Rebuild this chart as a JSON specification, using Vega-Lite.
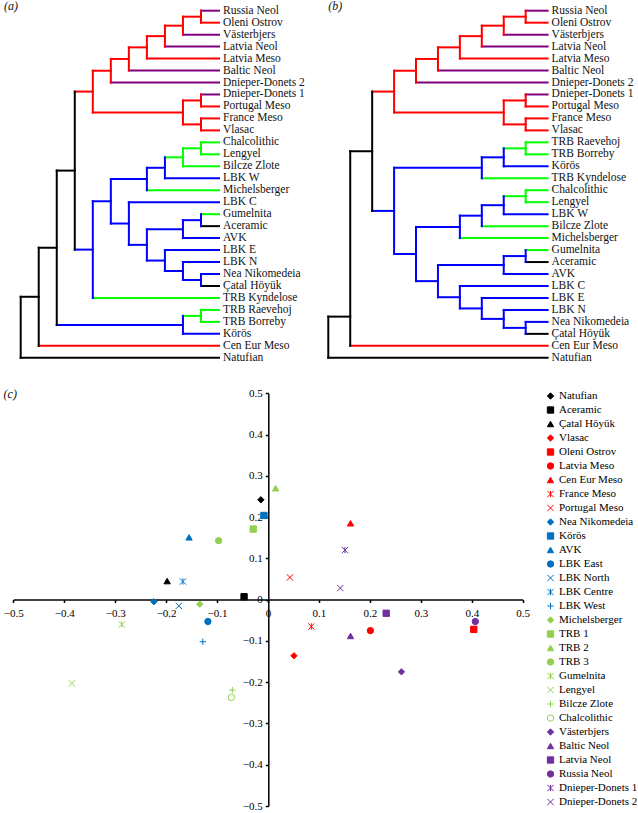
{
"$schema": "https://vega.github.io/schema/vega-lite/v6.json",
"width": 638, "height": 813,
"autosize": {"type": "none"},
"padding": 0,
"background": "white",
"config": {"view": {"stroke": null}, "font": "Liberation Serif"},
"datasets": {
"redClade": [
{"h":0,"h2":1,"i":0,"i2":0,"g":"neoN"},
{"h":0,"h2":1,"i":1,"i2":1,"g":"meso"},
{"h":1,"h2":2,"i":0.5,"i2":0.5,"g":"meso"},
{"h":0,"h2":2,"i":2,"i2":2,"g":"neoN"},
{"h":2,"h2":3,"i":1.25,"i2":1.25,"g":"meso"},
{"h":0,"h2":3,"i":3,"i2":3,"g":"neoN"},
{"h":3,"h2":4,"i":2.125,"i2":2.125,"g":"meso"},
{"h":0,"h2":4,"i":4,"i2":4,"g":"meso"},
{"h":4,"h2":5,"i":3.063,"i2":3.063,"g":"meso"},
{"h":0,"h2":5,"i":5,"i2":5,"g":"neoN"},
{"h":5,"h2":6,"i":4.031,"i2":4.031,"g":"meso"},
{"h":0,"h2":6,"i":6,"i2":6,"g":"neoN"},
{"h":6,"h2":7,"i":5.016,"i2":5.016,"g":"meso"},
{"h":0,"h2":1,"i":7,"i2":7,"g":"neoN"},
{"h":0,"h2":1,"i":8,"i2":8,"g":"meso"},
{"h":0,"h2":1,"i":9,"i2":9,"g":"meso"},
{"h":0,"h2":1,"i":10,"i2":10,"g":"meso"},
{"h":1,"h2":2,"i":7.5,"i2":7.5,"g":"meso"},
{"h":1,"h2":2,"i":9.5,"i2":9.5,"g":"meso"},
{"h":2,"h2":7,"i":8.5,"i2":8.5,"g":"meso"},
{"h":7,"h2":8,"i":6.758,"i2":6.758,"g":"meso"},
{"h":1,"h2":1,"i":0,"i2":1,"g":"meso"},
{"h":2,"h2":2,"i":0.5,"i2":2,"g":"meso"},
{"h":3,"h2":3,"i":1.25,"i2":3,"g":"meso"},
{"h":4,"h2":4,"i":2.125,"i2":4,"g":"meso"},
{"h":5,"h2":5,"i":3.063,"i2":5,"g":"meso"},
{"h":6,"h2":6,"i":4.031,"i2":6,"g":"meso"},
{"h":1,"h2":1,"i":7,"i2":8,"g":"meso"},
{"h":1,"h2":1,"i":9,"i2":10,"g":"meso"},
{"h":2,"h2":2,"i":7.5,"i2":9.5,"g":"meso"},
{"h":7,"h2":7,"i":5.016,"i2":8.5,"g":"meso"}
],
"restA": [
{"h":0,"h2":1,"i":11,"i2":11,"g":"trb"},
{"h":0,"h2":1,"i":12,"i2":12,"g":"trb"},
{"h":1,"h2":2,"i":11.5,"i2":11.5,"g":"trb"},
{"h":0,"h2":2,"i":13,"i2":13,"g":"trb"},
{"h":2,"h2":3,"i":12.25,"i2":12.25,"g":"trb"},
{"h":0,"h2":3,"i":14,"i2":14,"g":"lbk"},
{"h":3,"h2":4,"i":13.125,"i2":13.125,"g":"lbk"},
{"h":0,"h2":4,"i":15,"i2":15,"g":"trb"},
{"h":4,"h2":6,"i":14.063,"i2":14.063,"g":"lbk"},
{"h":0,"h2":5,"i":16,"i2":16,"g":"lbk"},
{"h":0,"h2":1,"i":17,"i2":17,"g":"trb"},
{"h":0,"h2":1,"i":18,"i2":18,"g":"base"},
{"h":1,"h2":2,"i":17.5,"i2":17.5,"g":"lbk"},
{"h":0,"h2":2,"i":19,"i2":19,"g":"lbk"},
{"h":2,"h2":4,"i":18.25,"i2":18.25,"g":"lbk"},
{"h":0,"h2":3,"i":20,"i2":20,"g":"lbk"},
{"h":0,"h2":2,"i":21,"i2":21,"g":"lbk"},
{"h":0,"h2":1,"i":22,"i2":22,"g":"lbk"},
{"h":0,"h2":1,"i":23,"i2":23,"g":"base"},
{"h":1,"h2":2,"i":22.5,"i2":22.5,"g":"lbk"},
{"h":2,"h2":3,"i":21.75,"i2":21.75,"g":"lbk"},
{"h":3,"h2":4,"i":20.875,"i2":20.875,"g":"lbk"},
{"h":4,"h2":5,"i":19.563,"i2":19.563,"g":"lbk"},
{"h":5,"h2":6,"i":17.781,"i2":17.781,"g":"lbk"},
{"h":6,"h2":7,"i":15.922,"i2":15.922,"g":"lbk"},
{"h":0,"h2":7,"i":24,"i2":24,"g":"trb"},
{"h":7,"h2":8,"i":19.961,"i2":19.961,"g":"lbk"},
{"h":8,"h2":9,"i":13.359,"i2":13.359,"g":"base"},
{"h":0,"h2":1,"i":25,"i2":25,"g":"trb"},
{"h":0,"h2":1,"i":26,"i2":26,"g":"trb"},
{"h":1,"h2":2,"i":25.5,"i2":25.5,"g":"trb"},
{"h":0,"h2":2,"i":27,"i2":27,"g":"lbk"},
{"h":2,"h2":9,"i":26.25,"i2":26.25,"g":"lbk"},
{"h":9,"h2":10,"i":19.805,"i2":19.805,"g":"base"},
{"h":0,"h2":10,"i":28,"i2":28,"g":"meso"},
{"h":10,"h2":11,"i":23.902,"i2":23.902,"g":"base"},
{"h":0,"h2":11,"i":29,"i2":29,"g":"base"},
{"h":1,"h2":1,"i":11,"i2":12,"g":"trb"},
{"h":2,"h2":2,"i":11.5,"i2":13,"g":"trb"},
{"h":3,"h2":3,"i":12.25,"i2":14,"g":"lbk"},
{"h":4,"h2":4,"i":13.125,"i2":15,"g":"lbk"},
{"h":1,"h2":1,"i":17,"i2":18,"g":"lbk"},
{"h":2,"h2":2,"i":17.5,"i2":19,"g":"lbk"},
{"h":1,"h2":1,"i":22,"i2":23,"g":"lbk"},
{"h":2,"h2":2,"i":21,"i2":22.5,"g":"lbk"},
{"h":3,"h2":3,"i":20,"i2":21.75,"g":"lbk"},
{"h":4,"h2":4,"i":18.25,"i2":20.875,"g":"lbk"},
{"h":5,"h2":5,"i":16,"i2":19.563,"g":"lbk"},
{"h":6,"h2":6,"i":14.063,"i2":17.781,"g":"lbk"},
{"h":7,"h2":7,"i":15.922,"i2":24,"g":"lbk"},
{"h":8,"h2":8,"i":6.758,"i2":19.961,"g":"base"},
{"h":1,"h2":1,"i":25,"i2":26,"g":"trb"},
{"h":2,"h2":2,"i":25.5,"i2":27,"g":"lbk"},
{"h":9,"h2":9,"i":13.359,"i2":26.25,"g":"base"},
{"h":10,"h2":10,"i":19.805,"i2":28,"g":"base"},
{"h":11,"h2":11,"i":23.902,"i2":29,"g":"base"}
],
"restB": [
{"h":0,"h2":1,"i":11,"i2":11,"g":"trb"},
{"h":0,"h2":1,"i":12,"i2":12,"g":"trb"},
{"h":1,"h2":2,"i":11.5,"i2":11.5,"g":"trb"},
{"h":0,"h2":2,"i":13,"i2":13,"g":"lbk"},
{"h":2,"h2":3,"i":12.25,"i2":12.25,"g":"lbk"},
{"h":0,"h2":3,"i":14,"i2":14,"g":"trb"},
{"h":3,"h2":7,"i":13.125,"i2":13.125,"g":"lbk"},
{"h":0,"h2":1,"i":15,"i2":15,"g":"trb"},
{"h":0,"h2":1,"i":16,"i2":16,"g":"trb"},
{"h":1,"h2":2,"i":15.5,"i2":15.5,"g":"trb"},
{"h":0,"h2":2,"i":17,"i2":17,"g":"lbk"},
{"h":2,"h2":3,"i":16.25,"i2":16.25,"g":"lbk"},
{"h":0,"h2":3,"i":18,"i2":18,"g":"trb"},
{"h":3,"h2":4,"i":17.125,"i2":17.125,"g":"lbk"},
{"h":0,"h2":4,"i":19,"i2":19,"g":"trb"},
{"h":4,"h2":6,"i":18.063,"i2":18.063,"g":"lbk"},
{"h":0,"h2":1,"i":20,"i2":20,"g":"trb"},
{"h":0,"h2":1,"i":21,"i2":21,"g":"base"},
{"h":1,"h2":2,"i":20.5,"i2":20.5,"g":"lbk"},
{"h":0,"h2":2,"i":22,"i2":22,"g":"lbk"},
{"h":2,"h2":5,"i":21.25,"i2":21.25,"g":"lbk"},
{"h":0,"h2":4,"i":23,"i2":23,"g":"lbk"},
{"h":0,"h2":3,"i":24,"i2":24,"g":"lbk"},
{"h":0,"h2":2,"i":25,"i2":25,"g":"lbk"},
{"h":0,"h2":1,"i":26,"i2":26,"g":"lbk"},
{"h":0,"h2":1,"i":27,"i2":27,"g":"base"},
{"h":1,"h2":2,"i":26.5,"i2":26.5,"g":"lbk"},
{"h":2,"h2":3,"i":25.75,"i2":25.75,"g":"lbk"},
{"h":3,"h2":4,"i":24.875,"i2":24.875,"g":"lbk"},
{"h":4,"h2":5,"i":23.938,"i2":23.938,"g":"lbk"},
{"h":5,"h2":6,"i":22.594,"i2":22.594,"g":"lbk"},
{"h":6,"h2":7,"i":20.328,"i2":20.328,"g":"lbk"},
{"h":7,"h2":8,"i":16.727,"i2":16.727,"g":"lbk"},
{"h":8,"h2":9,"i":11.742,"i2":11.742,"g":"base"},
{"h":0,"h2":9,"i":28,"i2":28,"g":"meso"},
{"h":9,"h2":10,"i":25.56,"i2":25.56,"g":"base"},
{"h":0,"h2":10,"i":29,"i2":29,"g":"base"},
{"h":1,"h2":1,"i":11,"i2":12,"g":"trb"},
{"h":2,"h2":2,"i":11.5,"i2":13,"g":"lbk"},
{"h":3,"h2":3,"i":12.25,"i2":14,"g":"lbk"},
{"h":1,"h2":1,"i":15,"i2":16,"g":"trb"},
{"h":2,"h2":2,"i":15.5,"i2":17,"g":"lbk"},
{"h":3,"h2":3,"i":16.25,"i2":18,"g":"lbk"},
{"h":4,"h2":4,"i":17.125,"i2":19,"g":"lbk"},
{"h":1,"h2":1,"i":20,"i2":21,"g":"lbk"},
{"h":2,"h2":2,"i":20.5,"i2":22,"g":"lbk"},
{"h":1,"h2":1,"i":26,"i2":27,"g":"lbk"},
{"h":2,"h2":2,"i":25,"i2":26.5,"g":"lbk"},
{"h":3,"h2":3,"i":24,"i2":25.75,"g":"lbk"},
{"h":4,"h2":4,"i":23,"i2":24.875,"g":"lbk"},
{"h":5,"h2":5,"i":21.25,"i2":23.938,"g":"lbk"},
{"h":6,"h2":6,"i":18.063,"i2":22.594,"g":"lbk"},
{"h":7,"h2":7,"i":13.125,"i2":20.328,"g":"lbk"},
{"h":8,"h2":8,"i":6.758,"i2":16.727,"g":"base"},
{"h":9,"h2":9,"i":11.742,"i2":28,"g":"base"},
{"h":10,"h2":10,"i":25.56,"i2":29,"g":"base"}
],
"leavesA": [
{"name":"Russia Neol","i":0},{"name":"Oleni Ostrov","i":1},{"name":"Västerbjers","i":2},{"name":"Latvia Neol","i":3},{"name":"Latvia Meso","i":4},{"name":"Baltic Neol","i":5},{"name":"Dnieper-Donets 2","i":6},{"name":"Dnieper-Donets 1","i":7},{"name":"Portugal Meso","i":8},{"name":"France Meso","i":9},{"name":"Vlasac","i":10},{"name":"Chalcolithic","i":11},{"name":"Lengyel","i":12},{"name":"Bilcze Zlote","i":13},{"name":"LBK W","i":14},{"name":"Michelsberger","i":15},{"name":"LBK C","i":16},{"name":"Gumelnita","i":17},{"name":"Aceramic","i":18},{"name":"AVK","i":19},{"name":"LBK E","i":20},{"name":"LBK N","i":21},{"name":"Nea Nikomedeia","i":22},{"name":"Çatal Höyük","i":23},{"name":"TRB Kyndelose","i":24},{"name":"TRB Raevehoj","i":25},{"name":"TRB Borreby","i":26},{"name":"Körös","i":27},{"name":"Cen Eur Meso","i":28},{"name":"Natufian","i":29}
],
"leavesB": [
{"name":"Russia Neol","i":0},{"name":"Oleni Ostrov","i":1},{"name":"Västerbjers","i":2},{"name":"Latvia Neol","i":3},{"name":"Latvia Meso","i":4},{"name":"Baltic Neol","i":5},{"name":"Dnieper-Donets 2","i":6},{"name":"Dnieper-Donets 1","i":7},{"name":"Portugal Meso","i":8},{"name":"France Meso","i":9},{"name":"Vlasac","i":10},{"name":"TRB Raevehoj","i":11},{"name":"TRB Borreby","i":12},{"name":"Körös","i":13},{"name":"TRB Kyndelose","i":14},{"name":"Chalcolithic","i":15},{"name":"Lengyel","i":16},{"name":"LBK W","i":17},{"name":"Bilcze Zlote","i":18},{"name":"Michelsberger","i":19},{"name":"Gumelnita","i":20},{"name":"Aceramic","i":21},{"name":"AVK","i":22},{"name":"LBK C","i":23},{"name":"LBK E","i":24},{"name":"LBK N","i":25},{"name":"Nea Nikomedeia","i":26},{"name":"Çatal Höyük","i":27},{"name":"Cen Eur Meso","i":28},{"name":"Natufian","i":29}
],
"pca": [
{"name":"Natufian","x":-0.014,"y":0.242},
{"name":"Aceramic","x":-0.047,"y":0.007},
{"name":"Çatal Höyük","x":-0.198,"y":0.045},
{"name":"Vlasac","x":0.051,"y":-0.136},
{"name":"Oleni Ostrov","x":0.404,"y":-0.072},
{"name":"Latvia Meso","x":0.201,"y":-0.075},
{"name":"Cen Eur Meso","x":0.162,"y":0.185},
{"name":"France Meso","x":0.085,"y":-0.065},
{"name":"Portugal Meso","x":0.043,"y":0.054},
{"name":"Nea Nikomedeia","x":-0.224,"y":-0.005},
{"name":"Körös","x":-0.008,"y":0.204},
{"name":"AVK","x":-0.155,"y":0.151},
{"name":"LBK East","x":-0.118,"y":-0.053},
{"name":"LBK North","x":-0.175,"y":-0.015},
{"name":"LBK Centre","x":-0.167,"y":0.044},
{"name":"LBK West","x":-0.128,"y":-0.102},
{"name":"Michelsberger","x":-0.134,"y":-0.011},
{"name":"TRB 1","x":-0.029,"y":0.171},
{"name":"TRB 2","x":0.015,"y":0.27},
{"name":"TRB 3","x":-0.097,"y":0.143},
{"name":"Gumelnita","x":-0.287,"y":-0.06},
{"name":"Lengyel","x":-0.385,"y":-0.203},
{"name":"Bilcze Zlote","x":-0.07,"y":-0.219},
{"name":"Chalcolithic","x":-0.072,"y":-0.237},
{"name":"Västerbjers","x":0.262,"y":-0.175},
{"name":"Baltic Neol","x":0.162,"y":-0.088},
{"name":"Latvia Neol","x":0.232,"y":-0.033},
{"name":"Russia Neol","x":0.407,"y":-0.053},
{"name":"Dnieper-Donets 1","x":0.151,"y":0.12},
{"name":"Dnieper-Donets 2","x":0.142,"y":0.028}
]
},
"layer": [
{
"layer": [
{"data": {"name": "redClade"}, "mark": {"type": "rule", "strokeWidth": 2, "strokeCap": "square"},
 "encoding": {
  "x": {"field": "h", "type": "quantitative", "scale": {"domain": [0, 11], "range": [219, 20.7], "nice": false, "zero": false}, "axis": null},
  "x2": {"field": "h2"},
  "y": {"field": "i", "type": "quantitative", "scale": {"domain": [0, 29], "range": [10.7, 357.8], "nice": false, "zero": false}, "axis": null},
  "y2": {"field": "i2"},
  "color": {"field": "g", "type": "nominal", "scale": {"domain": ["meso","neoN","lbk","trb","base"], "range": ["#ff0000","#800080","#0000ff","#00ff00","#000000"]}, "legend": null}}},
{"data": {"name": "restA"}, "mark": {"type": "rule", "strokeWidth": 2, "strokeCap": "square"},
 "encoding": {
  "x": {"field": "h", "type": "quantitative"},
  "x2": {"field": "h2"},
  "y": {"field": "i", "type": "quantitative"},
  "y2": {"field": "i2"},
  "color": {"field": "g", "type": "nominal", "legend": null}}},
{"data": {"name": "leavesA"}, "mark": {"type": "text", "align": "left", "baseline": "middle", "dx": 4, "fontSize": 11.5, "font": "Liberation Serif", "color": "#111111"},
 "encoding": {"x": {"datum": 0, "type": "quantitative"}, "y": {"field": "i", "type": "quantitative"}, "text": {"field": "name"}}},
{"data": {"values": [{"t": "(a)", "h": 11.92, "i": -0.39}]}, "mark": {"type": "text", "align": "left", "baseline": "middle", "fontSize": 12, "fontStyle": "italic", "font": "Liberation Serif", "color": "#111111"},
 "encoding": {"x": {"field": "h", "type": "quantitative"}, "y": {"field": "i", "type": "quantitative"}, "text": {"field": "t"}}}
]
},
{
"layer": [
{"data": {"name": "redClade"}, "mark": {"type": "rule", "strokeWidth": 2, "strokeCap": "square"},
 "encoding": {
  "x": {"field": "h", "type": "quantitative", "scale": {"domain": [0, 10], "range": [547.6, 328.3], "nice": false, "zero": false}, "axis": null},
  "x2": {"field": "h2"},
  "y": {"field": "i", "type": "quantitative", "scale": {"domain": [0, 29], "range": [10.7, 357.8], "nice": false, "zero": false}, "axis": null},
  "y2": {"field": "i2"},
  "color": {"field": "g", "type": "nominal", "scale": {"domain": ["meso","neoN","lbk","trb","base"], "range": ["#ff0000","#800080","#0000ff","#00ff00","#000000"]}, "legend": null}}},
{"data": {"name": "restB"}, "mark": {"type": "rule", "strokeWidth": 2, "strokeCap": "square"},
 "encoding": {
  "x": {"field": "h", "type": "quantitative"},
  "x2": {"field": "h2"},
  "y": {"field": "i", "type": "quantitative"},
  "y2": {"field": "i2"},
  "color": {"field": "g", "type": "nominal", "legend": null}}},
{"data": {"name": "leavesB"}, "mark": {"type": "text", "align": "left", "baseline": "middle", "dx": 4, "fontSize": 11.5, "font": "Liberation Serif", "color": "#111111"},
 "encoding": {"x": {"datum": 0, "type": "quantitative"}, "y": {"field": "i", "type": "quantitative"}, "text": {"field": "name"}}},
{"data": {"values": [{"t": "(b)", "h": 10.0, "i": -0.39}]}, "mark": {"type": "text", "align": "left", "baseline": "middle", "fontSize": 12, "fontStyle": "italic", "font": "Liberation Serif", "color": "#111111"},
 "encoding": {"x": {"field": "h", "type": "quantitative"}, "y": {"field": "i", "type": "quantitative"}, "text": {"field": "t"}}}
]
},
{
"layer": [
{"data": {"name": "pca"}, "mark": {"type": "point", "size": 40, "opacity": 1, "strokeWidth": 1},
 "encoding": {
  "x": {"field": "x", "type": "quantitative", "scale": {"domain": [-0.5, 0.5], "range": [13.3, 522.7], "nice": false, "zero": false},
        "axis": {"orient": "bottom", "offset": -213.5, "values": [-0.5,-0.4,-0.3,-0.2,-0.1,0,0.1,0.2,0.3,0.4,0.5], "format": "~g", "grid": false, "title": null, "domainColor": "black", "domainWidth": 1.5, "tickColor": "black", "tickWidth": 1.5, "tickSize": 3, "labelFont": "Liberation Serif", "labelFontSize": 11, "labelColor": "black", "labelPadding": 5, "labelFlush": false, "labelOverlap": false, "labelBound": false}},
  "y": {"field": "y", "type": "quantitative", "scale": {"domain": [-0.5, 0.5], "range": [806, 393.3], "nice": false, "zero": false},
        "axis": {"orient": "left", "offset": -268.3, "values": [-0.5,-0.4,-0.3,-0.2,-0.1,0,0.1,0.2,0.3,0.4,0.5], "format": "~g", "grid": false, "title": null, "domainColor": "black", "domainWidth": 1.5, "tickColor": "black", "tickWidth": 1.5, "tickSize": 3, "labelFont": "Liberation Serif", "labelFontSize": 11, "labelColor": "black", "labelPadding": 3, "labelFlush": false, "labelOverlap": false, "labelBound": false}},
  "shape": {"field": "name", "type": "nominal",
    "scale": {"domain": ["Natufian","Aceramic","Çatal Höyük","Vlasac","Oleni Ostrov","Latvia Meso","Cen Eur Meso","France Meso","Portugal Meso","Nea Nikomedeia","Körös","AVK","LBK East","LBK North","LBK Centre","LBK West","Michelsberger","TRB 1","TRB 2","TRB 3","Gumelnita","Lengyel","Bilcze Zlote","Chalcolithic","Västerbjers","Baltic Neol","Latvia Neol","Russia Neol","Dnieper-Donets 1","Dnieper-Donets 2"],
      "range": ["diamond","square","triangle-up","diamond","square","circle","triangle-up","M-1,-1L1,1M-1,1L1,-1M0,-1L0,1","M-1,-1L1,1M-1,1L1,-1","diamond","square","triangle-up","circle","M-1,-1L1,1M-1,1L1,-1","M-1,-1L1,1M-1,1L1,-1M0,-1L0,1","M-1,0L1,0M0,-1L0,1","diamond","square","triangle-up","circle","M-1,-1L1,1M-1,1L1,-1M0,-1L0,1","M-1,-1L1,1M-1,1L1,-1","M-1,0L1,0M0,-1L0,1","circle","diamond","triangle-up","square","circle","M-1,-1L1,1M-1,1L1,-1M0,-1L0,1","M-1,-1L1,1M-1,1L1,-1"]},
    "legend": {"orient": "none", "legendX": 545, "legendY": 390.5, "title": null, "symbolSize": 40, "symbolStrokeWidth": 1, "labelFont": "Liberation Serif", "labelFontSize": 11, "labelColor": "black", "rowPadding": 2, "labelOffset": 3, "padding": 0, "columns": 1, "direction": "vertical", "symbolLimit": 50, "symbolOpacity": 1}},
  "fill": {"field": "name", "type": "nominal",
    "scale": {"domain": ["Natufian","Aceramic","Çatal Höyük","Vlasac","Oleni Ostrov","Latvia Meso","Cen Eur Meso","France Meso","Portugal Meso","Nea Nikomedeia","Körös","AVK","LBK East","LBK North","LBK Centre","LBK West","Michelsberger","TRB 1","TRB 2","TRB 3","Gumelnita","Lengyel","Bilcze Zlote","Chalcolithic","Västerbjers","Baltic Neol","Latvia Neol","Russia Neol","Dnieper-Donets 1","Dnieper-Donets 2"],
      "range": ["#000000","#000000","#000000","#ff0000","#ff0000","#ff0000","#ff0000","transparent","transparent","#0070c0","#0070c0","#0070c0","#0070c0","transparent","transparent","transparent","#92d050","#92d050","#92d050","#92d050","transparent","transparent","transparent","transparent","#7030a0","#7030a0","#7030a0","#7030a0","transparent","transparent"]},
    "legend": {"orient": "none", "legendX": 545, "legendY": 390.5, "title": null, "symbolSize": 40, "symbolStrokeWidth": 1, "labelFont": "Liberation Serif", "labelFontSize": 11, "labelColor": "black", "rowPadding": 2, "labelOffset": 3, "padding": 0, "columns": 1, "direction": "vertical", "symbolLimit": 50, "symbolOpacity": 1}},
  "stroke": {"field": "name", "type": "nominal",
    "scale": {"domain": ["Natufian","Aceramic","Çatal Höyük","Vlasac","Oleni Ostrov","Latvia Meso","Cen Eur Meso","France Meso","Portugal Meso","Nea Nikomedeia","Körös","AVK","LBK East","LBK North","LBK Centre","LBK West","Michelsberger","TRB 1","TRB 2","TRB 3","Gumelnita","Lengyel","Bilcze Zlote","Chalcolithic","Västerbjers","Baltic Neol","Latvia Neol","Russia Neol","Dnieper-Donets 1","Dnieper-Donets 2"],
      "range": ["#000000","#000000","#000000","#ff0000","#ff0000","#ff0000","#ff0000","#ff0000","#ff0000","#0070c0","#0070c0","#0070c0","#0070c0","#0070c0","#0070c0","#0070c0","#92d050","#92d050","#92d050","#92d050","#92d050","#92d050","#92d050","#92d050","#7030a0","#7030a0","#7030a0","#7030a0","#7030a0","#7030a0"]},
    "legend": {"orient": "none", "legendX": 545, "legendY": 390.5, "title": null, "symbolSize": 40, "symbolStrokeWidth": 1, "labelFont": "Liberation Serif", "labelFontSize": 11, "labelColor": "black", "rowPadding": 2, "labelOffset": 3, "padding": 0, "columns": 1, "direction": "vertical", "symbolLimit": 50, "symbolOpacity": 1}}
 }},
{"data": {"values": [{"t": "(c)", "x": -0.519, "y": 0.498}]}, "mark": {"type": "text", "align": "left", "baseline": "middle", "fontSize": 12, "fontStyle": "italic", "font": "Liberation Serif", "color": "#111111"},
 "encoding": {"x": {"field": "x", "type": "quantitative"}, "y": {"field": "y", "type": "quantitative"}, "text": {"field": "t"}}}
]
}
],
"resolve": {"scale": {"x": "independent", "y": "independent", "color": "independent"}, "axis": {"x": "independent", "y": "independent"}}
}
